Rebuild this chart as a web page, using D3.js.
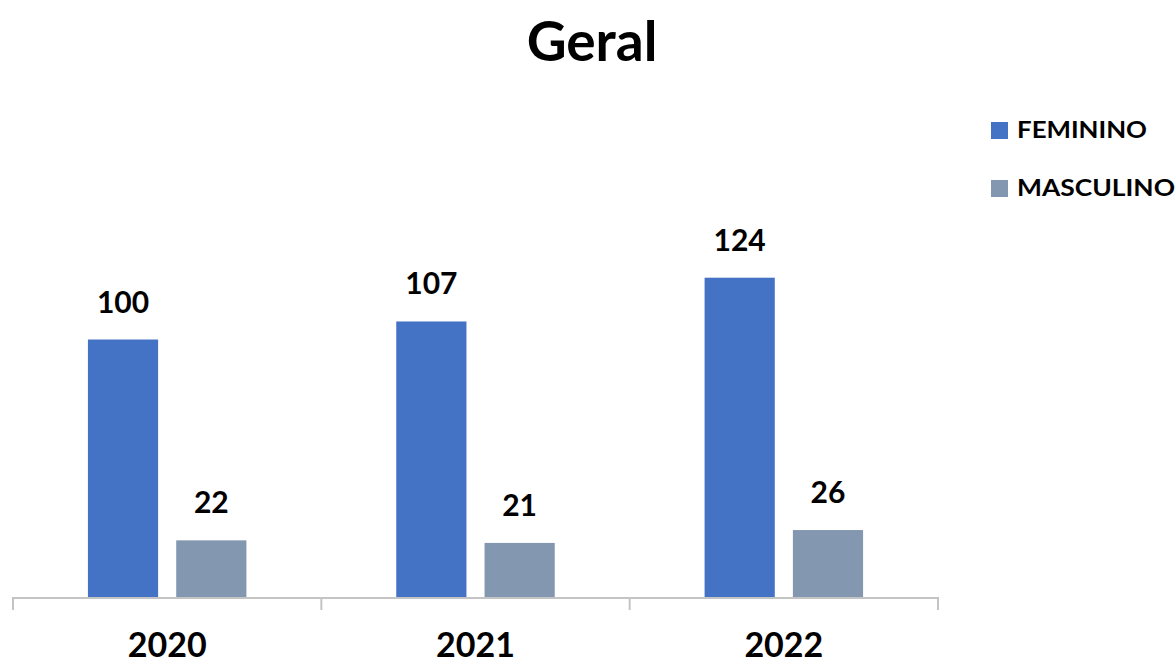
<!DOCTYPE html>
<html>
<head>
<meta charset="utf-8">
<script src="https://cdn.jsdelivr.net/npm/d3@7"></script>
<style>
  html, body { margin: 0; padding: 0; background: #fff; }
  svg { display: block; }
  text { font-family: Lato, "Open Sans", sans-serif; font-weight: bold; fill: #000; }
</style>
</head>
<body>
<svg id="chart" width="1176" height="664"></svg>
<script>
// Category axis (years) and the two series
const years = ["2020", "2021", "2022"];
const seriesNames = ["FEMININO", "MASCULINO"];
const feminino = [100, 107, 124];
const masculino = [22, 21, 26];
const seriesColors = ["#4472C4", "#8497B0"];

const rows = years.map((y, i) => ({ year: y, values: [feminino[i], masculino[i]] }));

const svg = d3.select("#chart");

// Plot area
const plot = { left: 13, right: 938, bottom: 597, top: 210 };

const x0 = d3.scaleBand().domain(years).range([plot.left, plot.right]).padding(0);
const bw = x0.bandwidth();
const x1 = d3.scaleBand()
  .domain(seriesNames)
  .range([bw * 0.243, bw * 0.757])
  .paddingInner(0.205)
  .paddingOuter(0);

const y = d3.scaleLinear().domain([0, 150]).range([plot.bottom, plot.bottom - 150 * 2.575]);

// Title
svg.append("text")
  .attr("x", 592).attr("y", 61)
  .attr("text-anchor", "middle")
  .style("font-size", "55px")
  .text("Geral");

// Bars and value labels
const groups = svg.selectAll("g.year")
  .data(rows)
  .join("g")
  .attr("class", "year")
  .attr("transform", d => `translate(${x0(d.year)},0)`);

groups.selectAll("rect")
  .data(d => d.values.map((v, i) => ({ key: seriesNames[i], value: v, i })))
  .join("rect")
  .attr("x", d => x1(d.key))
  .attr("width", x1.bandwidth())
  .attr("y", d => y(d.value))
  .attr("height", d => y(0) - y(d.value))
  .attr("fill", d => seriesColors[d.i]);

groups.selectAll("text.value")
  .data(d => d.values.map((v, i) => ({ key: seriesNames[i], value: v })))
  .join("text")
  .attr("class", "value")
  .attr("x", d => x1(d.key) + x1.bandwidth() / 2)
  .attr("y", d => y(d.value) - 27)
  .attr("text-anchor", "middle")
  .style("font-size", "30px")
  .text(d => d.value);

// Category axis: baseline with ticks on band boundaries
const axis = svg.append("g").attr("stroke", "#c4c4c4").attr("stroke-width", 2).attr("fill", "none");
const axisY = 598;
axis.append("line")
  .attr("x1", plot.left).attr("x2", plot.right)
  .attr("y1", axisY).attr("y2", axisY);
const tickXs = years.map(d => x0(d)).concat([x0(years[years.length - 1]) + bw]);
axis.selectAll("line.tick")
  .data(tickXs)
  .join("line")
  .attr("class", "tick")
  .attr("x1", d => d).attr("x2", d => d)
  .attr("y1", axisY - 1).attr("y2", 610);

svg.selectAll("text.year")
  .data(years)
  .join("text")
  .attr("class", "year")
  .attr("x", d => x0(d) + bw / 2)
  .attr("y", 657)
  .attr("text-anchor", "middle")
  .style("font-size", "34px")
  .text(d => d);

// Legend
const legend = svg.append("g").attr("transform", "translate(991,122)");
const items = legend.selectAll("g")
  .data(seriesNames)
  .join("g")
  .attr("transform", (d, i) => `translate(0,${i * 58})`);
items.append("rect")
  .attr("width", 17).attr("height", 17)
  .attr("fill", (d, i) => seriesColors[i]);
items.append("text")
  .attr("x", 26).attr("y", 16)
  .style("font-size", "23px")
  .attr("textLength", (d, i) => i === 0 ? 130 : 158)
  .attr("lengthAdjust", "spacingAndGlyphs")
  .text(d => d);
</script>
</body>
</html>
